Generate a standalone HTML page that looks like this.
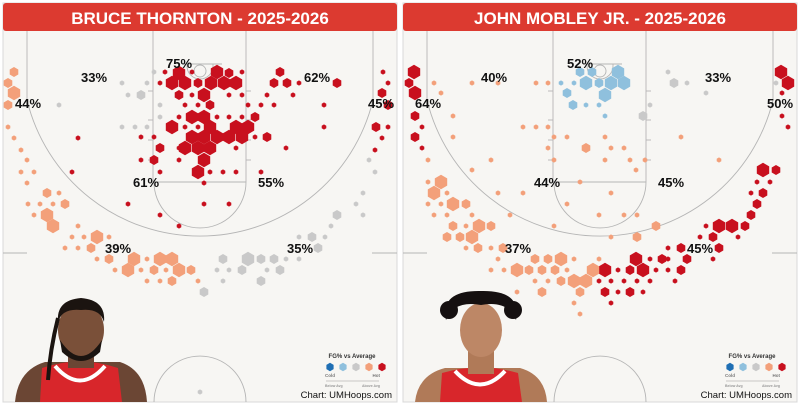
<!DOCTYPE html>
<html><head><meta charset="utf-8"><style>
html,body{margin:0;padding:0;background:#fff;}
svg{display:block;font-family:"Liberation Sans",Arial,sans-serif;}
</style></head><body>
<svg id="s" width="800" height="405" viewBox="0 0 800 405" xmlns="http://www.w3.org/2000/svg">
<defs>
<g id="court">
<rect x="3" y="3" width="394" height="399" fill="#f7f6f3" stroke="#d8d8d8"/>
<g fill="none" stroke="#b5b5b5" stroke-width="0.9">
<line x1="153" y1="31" x2="153" y2="182"/><line x1="246" y1="31" x2="246" y2="182"/>
<line x1="153" y1="182" x2="246" y2="182"/>
<path d="M154 182 A46 46 0 0 0 246 182"/>
<line x1="183" y1="64" x2="222" y2="64"/>
<circle cx="200" cy="71" r="6"/>
<path d="M187 66 A13 13 0 0 0 213 66 M187 66 L187 64 M213 66 L213 64"/>
<path d="M27 31 L27 100 A178 178 0 0 0 373 100 L373 31"/>
<line x1="3" y1="253" x2="27" y2="253"/><line x1="372" y1="253" x2="397" y2="253"/>
<path d="M154 402 A46 46 0 0 1 246 402"/>
<line x1="148" y1="120" x2="153" y2="120"/><line x1="148" y1="140" x2="153" y2="140"/><line x1="148" y1="160" x2="153" y2="160"/>
<line x1="246" y1="120" x2="251" y2="120"/><line x1="246" y1="140" x2="251" y2="140"/><line x1="246" y1="160" x2="251" y2="160"/>
<line x1="148" y1="91" x2="153" y2="91"/><line x1="246" y1="91" x2="251" y2="91"/>
</g>
<rect x="3" y="3" width="394" height="28" rx="3" fill="#dc3a30"/>
<g transform="translate(320,0)" font-weight="bold">
<text x="32" y="358" font-size="6" text-anchor="middle" fill="#333">FG% vs Average</text>
<text x="5" y="377" font-size="4.5" fill="#777">Cold</text>
<text x="60" y="377" font-size="4.5" fill="#777" text-anchor="end">Hot</text>
<line x1="6" y1="381" x2="59" y2="381" stroke="#999" stroke-width="0.5"/>
<text x="5" y="387" font-size="3.5" fill="#999">Below Avg</text>
<text x="60" y="387" font-size="3.5" fill="#999" text-anchor="end">Above Avg</text>
</g>
<text x="392" y="398" font-size="9.5" text-anchor="end" fill="#111">Chart: UMHoops.com</text>
</g>
</defs>
<use href="#court"/>
<use href="#court" x="400"/>
<text x="200" y="24" font-size="17" font-weight="bold" fill="#fff" text-anchor="middle">BRUCE THORNTON - 2025-2026</text>
<text x="600" y="24" font-size="17" font-weight="bold" fill="#fff" text-anchor="middle">JOHN MOBLEY JR. - 2025-2026</text>
<!-- player 1 -->
<g>
<path d="M15 402 Q18 370 45 362 L120 362 Q145 370 147 402Z" fill="#6b4634"/>
<path d="M40 402 L42 368 Q80 355 118 368 L122 402Z" fill="#d8262b"/>
<path d="M55 366 Q80 395 105 366" fill="none" stroke="#fff" stroke-width="4"/>
<rect x="68" y="338" width="26" height="30" fill="#6b4634"/>
<ellipse cx="81" cy="330" rx="23" ry="28" fill="#7a5039"/>
<path d="M58 322 Q56 300 81 298 Q106 300 104 322 Q100 308 81 310 Q62 308 58 322Z" fill="#1b1410"/>
<path d="M60 340 Q81 372 102 340 L100 352 Q81 370 62 352Z" fill="#1b1410"/>
<path d="M58 318 Q50 350 48 380" stroke="#1b1410" stroke-width="4" fill="none"/>
</g>
<g>
<path d="M415 402 Q418 375 445 368 L520 368 Q545 375 547 402Z" fill="#b07a58"/>
<path d="M440 402 L442 373 Q480 362 518 373 L522 402Z" fill="#d8262b"/>
<path d="M455 371 Q480 398 505 371" fill="none" stroke="#fff" stroke-width="4"/>
<rect x="468" y="340" width="26" height="34" fill="#b07a58"/>
<ellipse cx="481" cy="330" rx="21" ry="27" fill="#bd8766"/>
<path d="M446 320 Q440 290 481 291 Q522 290 516 320 Q508 300 481 305 Q454 300 446 320Z" fill="#151010"/>
<circle cx="449" cy="310" r="9" fill="#151010"/><circle cx="513" cy="310" r="9" fill="#151010"/>
</g>
<g id="hx"></g>
<g font-size="13" font-weight="bold" fill="#111" text-anchor="middle">
<text x="179" y="68">75%</text><text x="94" y="82">33%</text><text x="317" y="82">62%</text>
<text x="28" y="108">44%</text><text x="381" y="108">45%</text><text x="146" y="187">61%</text>
<text x="271" y="187">55%</text><text x="118" y="253">39%</text><text x="300" y="253">35%</text>
<text x="580" y="68">52%</text><text x="494" y="82">40%</text><text x="718" y="82">33%</text>
<text x="428" y="108">64%</text><text x="780" y="108">50%</text><text x="547" y="187">44%</text>
<text x="671" y="187">45%</text><text x="518" y="253">37%</text><text x="700" y="253">45%</text>
</g>
</svg>
<script>
var C={r:"#c8101e",o:"#f3a07a",g:"#c9c9c9",b:"#8fc0dd",d:"#1f6fb4"};
var R={L:7.2,M:5,s:2.6,X:4.2};
var data=[
[0,"r","179,73,L 217,72,L 229,73,M 172,83,L 185,83,L 198,83,M 211,83,L 224,83,L 236,83,L 165,72,s 192,72,s 242,72,s 160,83,s 179,95,M 204,95,L 192,95,s 229,95,s 242,95,s 210,105,M 185,105,s 198,105,s 248,105,s 192,117,L 204,117,L 179,117,s 217,117,s 229,117,s 242,117,s 255,117,M 172,127,L 210,127,L 236,127,L 248,127,L 185,127,s 198,127,s 192,137,L 204,137,L 217,137,L 229,137,L 242,137,L 267,137,M 141,137,s 154,137,s 255,137,s 78,138,s 160,148,M 185,148,L 198,148,L 210,148,L 179,148,s 236,148,s 286,148,s 154,160,M 204,160,L 141,160,s 179,160,s 198,172,L 160,172,s 210,172,s 223,172,s 236,172,s 261,172,s 72,172,s 204,183,s 280,72,M 274,83,M 287,83,M 337,83,M 299,83,s 267,95,s 293,95,s 274,105,s 261,105,s 324,105,s 383,72,s 388,83,s 382,93,M 388,105,M 324,127,s 376,127,M 388,127,s 382,138,s 375,150,s 128,204,s 204,204,s 229,204,s 160,215,s 179,226,s"],
[0,"g","154,72,s 122,83,s 147,83,s 128,95,s 141,95,M 59,105,s 160,105,s 160,117,s 122,127,s 135,127,s 147,127,s 369,160,s 375,172,s 363,193,s 356,204,s 337,215,M 363,215,s 331,226,s 299,237,s 312,237,M 325,237,s 318,248,M 223,259,M 248,259,L 261,259,M 274,259,M 286,259,s 299,259,s 217,270,s 229,270,s 242,270,M 267,270,s 280,270,M 223,281,s 261,281,M 204,292,M 200,392,s"],
[0,"o","14,72,M 8,83,M 14,93,L 8,105,M 8,127,s 14,138,s 21,150,s 27,160,s 21,172,s 34,172,s 27,183,s 47,193,M 59,193,s 28,204,s 40,204,s 53,204,s 65,204,M 34,215,s 47,215,L 53,226,L 78,226,s 72,237,s 84,237,s 97,237,L 109,237,s 65,248,s 78,248,s 91,248,M 97,259,s 109,259,M 134,259,L 147,259,s 160,259,L 172,259,L 115,270,s 128,270,L 141,270,s 154,270,M 166,270,s 179,270,L 191,270,M 147,281,s 160,281,s 172,281,M 198,281,s"],
[400,"r","14,72,L 9,83,M 15,93,L 15,116,M 22,127,s 15,137,M 22,148,s 381,72,L 388,83,L 382,93,s 382,116,s 388,127,s 363,170,L 376,170,M 357,182,s 370,182,s 351,193,s 363,193,M 357,204,M 351,215,M 306,226,s 319,226,L 332,226,L 345,226,M 338,237,s 313,237,M 300,237,s 268,248,s 281,248,M 319,248,M 268,259,s 236,259,L 250,259,s 262,259,M 287,259,M 313,259,s 205,270,L 218,270,s 230,270,M 243,270,L 256,270,s 268,270,s 281,270,M 199,281,s 211,281,s 224,281,s 237,281,s 250,281,s 275,281,s 205,292,M 218,292,s 230,292,M 243,292,s 211,303,s"],
[400,"o","34,83,s 41,93,s 72,83,s 98,83,s 53,116,s 53,137,s 28,160,s 91,160,s 72,170,s 28,182,s 41,182,L 34,193,L 47,193,s 136,83,s 148,83,s 123,127,s 136,127,s 148,127,s 154,137,s 167,137,s 205,137,s 148,148,s 186,148,M 211,148,s 224,148,s 154,160,s 205,160,s 230,160,s 245,160,s 236,170,s 180,182,s 98,193,s 123,193,s 211,193,s 281,137,s 319,160,s 28,204,s 41,204,s 53,204,L 66,204,M 34,215,s 47,215,s 72,215,s 110,215,s 53,226,M 66,226,s 79,226,L 91,226,M 154,226,s 47,237,M 60,237,M 72,237,L 78,248,M 66,248,s 91,248,s 103,248,M 98,259,s 135,259,M 148,259,M 161,259,L 174,259,s 91,270,s 104,270,s 117,270,L 129,270,M 142,270,M 155,270,M 167,270,s 193,270,L 135,281,s 148,281,s 161,281,M 174,281,L 186,281,L 117,292,s 142,292,M 180,292,M 174,303,s 180,314,s 167,204,s 199,215,s 224,215,s 237,215,s 256,226,M 211,237,s 237,237,M 199,259,s"],
[400,"b","180,72,M 192,72,M 218,72,L 161,83,s 174,83,s 186,83,L 199,83,M 211,83,L 224,83,L 167,93,M 205,95,L 173,105,M 186,105,s 199,105,s 205,116,s"],
[400,"g","268,72,s 274,83,M 287,83,s 306,93,s 376,83,s 250,105,s 243,116,M"]
];
var out="";
function hex(x,y,r,c){var p=[];for(var i=0;i<6;i++){var a=Math.PI/3*i+Math.PI/6;p.push((x+r*Math.cos(a)).toFixed(1)+","+(y+r*Math.sin(a)).toFixed(1));}return '<polygon points="'+p.join(" ")+'" fill="'+c+'"/>';}
data.forEach(function(d){d[2].split(" ").forEach(function(t){var q=t.split(",");out+=hex(+q[0]+d[0],+q[1],R[q[2]],C[d[1]]);});});
[0,400].forEach(function(o){var cs=["d","b","g","o","r"];for(var i=0;i<5;i++)out+=hex(o+330+i*13,367,R.X,C[cs[i]]);});
document.getElementById("hx").innerHTML=out;
</script>
</body></html>
